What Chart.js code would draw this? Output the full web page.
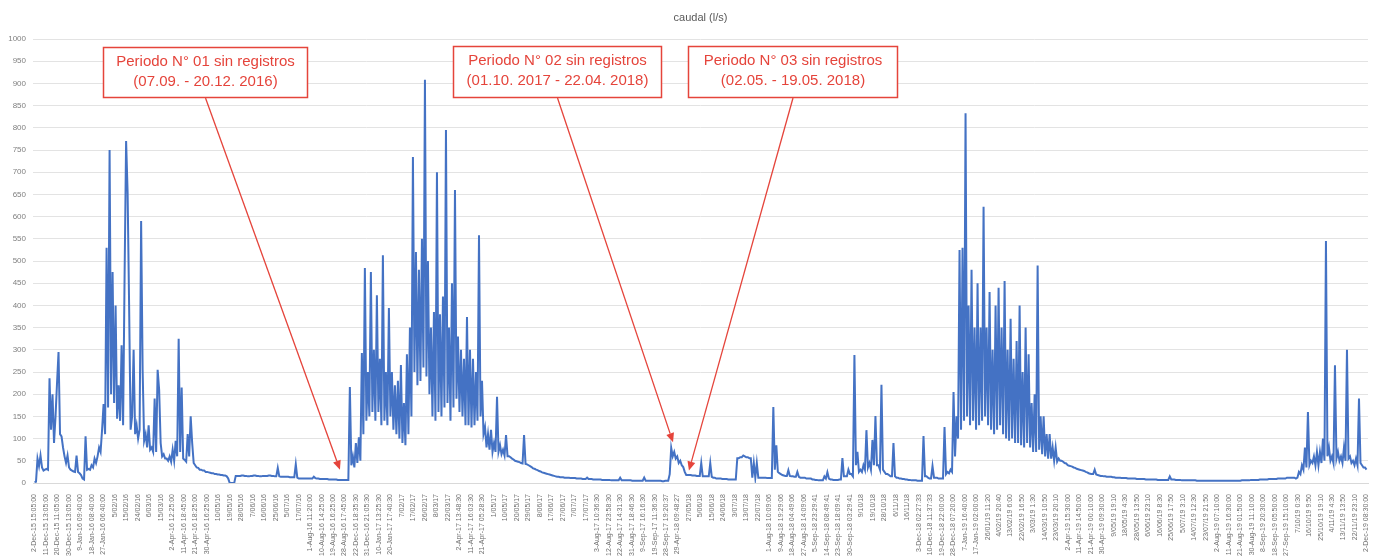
<!DOCTYPE html>
<html>
<head>
<meta charset="utf-8">
<script src="https://cdn.jsdelivr.net/npm/chart.js@4/dist/chart.umd.min.js"></script>
<style>
  html, body { margin: 0; padding: 0; background: #ffffff; }
  #wrap { width: 1381px; height: 557px; position: relative; }
</style>
</head>
<body>
<div id="wrap"><canvas id="c" width="1381" height="557"></canvas></div>
<script>
// Caudal (l/s), readings in record order
const caudal = [
  2,3,55,38,62,35,28,30,32,30,236,120,200,90,150,225,295,110,105,80,
  60,45,62,35,30,28,26,25,62,25,22,18,10,8,105,30,32,30,40,35,
  55,45,60,80,70,120,178,110,530,170,750,200,475,180,400,145,220,140,310,130,
  470,770,655,400,120,150,300,110,130,100,120,590,255,95,110,80,130,75,80,70,
  190,70,255,210,90,60,65,55,55,50,60,48,75,50,95,60,325,70,215,55,
  52,48,110,60,150,90,45,40,35,34,30,30,28,28,25,25,24,23,22,22,
  20,20,19,19,18,18,17,17,15,10,0,0,0,0,16,16,16,16,17,17,
  16,16,15,15,16,16,17,17,16,16,15,15,16,16,16,16,17,17,16,16,
  15,15,34,15,14,14,14,14,14,14,13,13,13,13,42,12,10,10,10,10,
  10,10,10,10,10,10,14,11,10,10,9,9,9,9,9,9,8,8,8,8,
  8,8,7,7,7,7,7,7,7,7,216,40,60,35,90,45,103,50,293,110,
  484,140,250,150,475,160,300,140,423,160,280,130,513,140,250,130,394,150,250,120,
  220,110,230,100,266,90,180,85,290,110,350,150,734,250,520,220,480,230,550,260,
  908,240,500,200,350,150,385,140,700,160,380,150,420,170,795,180,350,140,450,170,
  660,190,330,160,300,150,280,130,374,130,300,125,280,130,250,140,558,150,230,110,
  126,80,110,75,120,70,90,70,194,70,85,65,75,62,108,60,60,58,55,53,
  50,49,48,47,45,44,108,43,42,40,38,36,33,32,30,29,27,26,24,23,
  22,21,20,19,18,17,16,15,14,14,13,13,13,12,12,12,12,11,11,11,
  11,10,10,10,10,9,9,9,12,9,9,9,8,8,8,8,8,8,7,7,
  7,7,7,7,6,6,6,6,6,6,12,6,6,6,6,6,6,6,5,5,
  5,5,5,5,5,5,12,5,5,5,5,5,5,5,5,5,5,5,4,4,
  5,5,5,20,79,60,70,55,60,45,50,40,36,25,18,18,18,18,17,17,
  17,16,16,16,45,15,15,15,15,15,45,14,12,12,10,10,10,10,9,9,
  9,9,8,8,8,8,8,8,56,56,58,58,62,60,58,58,56,56,12,45,
  12,45,12,12,12,12,12,12,11,11,11,11,171,30,85,25,22,20,18,17,
  16,16,29,16,15,15,14,14,25,14,12,12,12,12,10,10,10,10,8,8,
  7,7,6,6,6,6,15,10,24,10,8,8,7,7,7,7,8,8,56,15,
  15,15,30,20,20,15,288,40,70,25,30,25,40,30,119,35,45,30,97,40,
  151,40,40,30,221,30,25,20,20,18,15,15,90,15,12,12,10,10,9,9,
  8,8,7,7,6,6,6,6,5,5,5,5,106,15,15,12,10,10,38,12,
  12,12,10,10,10,10,126,20,25,22,30,25,205,60,150,100,525,120,530,140,
  833,150,400,130,480,140,350,120,450,130,350,140,622,150,350,130,430,120,300,110,
  400,120,440,130,350,110,455,100,300,95,370,100,280,90,320,90,400,85,250,80,
  350,90,290,80,180,70,200,70,490,75,150,65,150,60,110,55,110,55,80,50,
  80,48,55,50,50,48,45,44,40,39,38,37,35,34,32,31,30,29,28,27,
  25,24,22,21,20,20,30,19,18,17,16,16,15,15,14,14,14,14,13,13,
  12,12,12,12,11,11,11,11,10,10,10,10,10,10,9,9,9,9,9,9,
  8,8,8,8,8,8,8,8,7,7,7,7,7,7,7,7,15,8,8,8,
  7,7,7,7,6,6,6,6,6,6,6,6,6,6,5,5,5,5,5,5,
  5,5,5,5,5,5,5,5,5,5,5,5,5,5,5,5,5,5,5,5,
  5,5,5,5,6,6,6,6,6,6,7,7,7,7,7,7,8,8,8,8,
  8,8,9,9,9,9,9,9,10,10,10,10,10,10,12,12,12,12,12,12,
  10,12,25,20,40,30,80,35,160,40,50,45,60,40,70,40,70,45,100,50,
  545,60,80,50,60,45,265,55,70,50,60,45,80,50,300,55,60,45,50,40,
  55,40,190,45,40,35,35,30
];

// Date labels along the horizontal axis
const tickLabels = [
  '2-Dec-15 15:05:00','11-Dec-15 13:05:00','20-Dec-15 11:05:00','30-Dec-15 13:05:00',
  '9-Jan-16 09:40:00','18-Jan-16 08:40:00','27-Jan-16 06:40:00',
  '5/02/16','15/02/16','24/02/16','6/03/16','15/03/16',
  '2-Apr-16 12:25:00','11-Apr-16 18:45:00','21-Apr-16 18:25:00','30-Apr-16 16:25:00',
  '10/05/16','19/05/16','28/05/16','7/06/16','16/06/16','25/06/16','5/07/16','17/07/16',
  '1-Aug-16 11:20:00','10-Aug-16 14:25:00','19-Aug-16 16:25:00','28-Aug-16 17:45:00',
  '22-Dec-16 18:35:30','31-Dec-16 21:05:30','10-Jan-17 13:25:30','20-Jan-17 17:40:30',
  '7/02/17','17/02/17','26/02/17','8/03/17','22/03/17',
  '2-Apr-17 13:48:30','11-Apr-17 16:03:30','21-Apr-17 05:28:30',
  '1/05/17','10/05/17','20/05/17','29/05/17','8/06/17','17/06/17','27/06/17','7/07/17','17/07/17',
  '3-Aug-17 10:36:30','12-Aug-17 23:58:30','22-Aug-17 14:31:30','31-Aug-17 18:46:30',
  '9-Sep-17 16:16:30','19-Sep-17 11:36:30','28-Sep-17 19:20:37','29-Apr-18 09:48:27',
  '27/05/18','5/06/18','15/06/18','24/06/18','3/07/18','13/07/18','22/07/18',
  '1-Aug-18 10:09:06','9-Aug-18 19:29:06','18-Aug-18 04:49:06','27-Aug-18 14:09:06',
  '5-Sep-18 23:29:41','14-Sep-18 08:49:41','23-Sep-18 18:09:41','30-Sep-18 03:29:41',
  '9/10/18','19/10/18','28/10/18','6/11/18','16/11/18',
  '3-Dec-18 02:27:33','10-Dec-18 11:37:33','19-Dec-18 22:00:00','28-Dec-18 07:20:00',
  '7-Jan-19 16:40:00','17-Jan-19 02:00:00',
  '26/01/19 11:20','4/02/19 20:40','13/02/19 6:00','22/02/19 16:50','3/03/19 1:30',
  '14/03/19 10:50','23/03/19 20:10',
  '2-Apr-19 15:30:00','11-Apr-19 14:50:00','21-Apr-19 00:10:00','30-Apr-19 09:30:00',
  '9/05/19 19:10','18/05/19 4:30','28/05/19 13:50','6/06/19 23:10','16/06/19 8:30',
  '25/06/19 17:50','5/07/19 3:10','14/07/19 12:30','23/07/19 21:50',
  '2-Aug-19 07:10:00','11-Aug-19 16:30:00','21-Aug-19 01:50:00','30-Aug-19 11:10:00',
  '8-Sep-19 20:30:00','18-Sep-19 05:50:00','27-Sep-19 15:10:00',
  '7/10/19 0:30','16/10/19 9:50','25/10/19 19:10','4/11/19 4:30','13/11/19 13:50',
  '22/11/19 23:10','2-Dec-19 08:30:00'
];

// Gaps in the record: callout text, box (left, top, right, bottom) and the reading the arrow points at
const gapTitles = ['Periodo N° 01 sin registros', 'Periodo N° 02 sin registros', 'Periodo N° 03 sin registros'];
const gapRanges = ['(07.09. - 20.12. 2016)', '(01.10. 2017 - 22.04. 2018)', '(02.05. - 19.05. 2018)'];
const gapBoxes = [[103, 47, 308, 98], [453, 46, 662, 98], [688, 46, 898, 98]];
const gapTargets = [[203.4, 30], [425.2, 92], [435.8, 28]];

const RED = '#E5443B';
const FONT = "'Liberation Sans', Arial, sans-serif";

const titlePlugin = {
  id: 'chartTitle',
  afterDraw(chart) {
    const { ctx, chartArea } = chart;
    ctx.save();
    ctx.fillStyle = '#595959';
    ctx.font = '11px ' + FONT;
    ctx.textAlign = 'center';
    ctx.textBaseline = 'middle';
    ctx.fillText('caudal (l/s)', (chartArea.left + chartArea.right) / 2, 18);
    ctx.restore();
  }
};

const calloutPlugin = {
  id: 'gapCallouts',
  afterDraw(chart) {
    const { ctx } = chart;
    const xs = chart.scales.x, ys = chart.scales.y;
    ctx.save();
    gapBoxes.forEach((b, k) => {
      const [l, t, r, btm] = b;
      const cx = (l + r) / 2;
      // arrow from the box down to the gap
      const tx = xs.getPixelForValue(gapTargets[k][0]);
      const ty = ys.getPixelForValue(gapTargets[k][1]);
      const ang = Math.atan2(ty - btm, tx - cx);
      const head = 9, half = 4;
      const bx = tx - head * Math.cos(ang), by = ty - head * Math.sin(ang);
      ctx.strokeStyle = RED;
      ctx.lineWidth = 1.3;
      ctx.beginPath();
      ctx.moveTo(cx, btm);
      ctx.lineTo(bx, by);
      ctx.stroke();
      ctx.fillStyle = RED;
      ctx.beginPath();
      ctx.moveTo(tx, ty);
      ctx.lineTo(bx + half * Math.sin(ang), by - half * Math.cos(ang));
      ctx.lineTo(bx - half * Math.sin(ang), by + half * Math.cos(ang));
      ctx.closePath();
      ctx.fill();
      // box
      ctx.fillStyle = '#ffffff';
      ctx.fillRect(l, t, r - l, btm - t);
      ctx.lineWidth = 1.5;
      ctx.strokeRect(l + 0.5, t + 0.5, r - l - 1, btm - t - 1);
      ctx.fillStyle = RED;
      ctx.font = '15px ' + FONT;
      ctx.textAlign = 'center';
      ctx.textBaseline = 'middle';
      ctx.fillText(gapTitles[k], cx, t + 15);
      ctx.fillText(gapRanges[k], cx, t + 35);
    });
    ctx.restore();
  }
};

const points = caudal.map((v, i) => ({ x: i, y: v }));

new Chart(document.getElementById('c').getContext('2d'), {
  type: 'line',
  data: {
    datasets: [{
      label: 'caudal (l/s)',
      data: points,
      borderColor: '#4472C4',
      borderWidth: 2,
      pointRadius: 0,
      tension: 0,
      fill: false
    }]
  },
  options: {
    responsive: false,
    animation: false,
    devicePixelRatio: 1,
    layout: { padding: { top: 39, right: 13, left: 0, bottom: 0 } },
    plugins: {
      legend: { display: false },
      tooltip: { enabled: false },
      title: { display: false }
    },
    scales: {
      x: {
        type: 'linear',
        min: -1,
        max: caudal.length,
        afterBuildTicks(scale) {
          const step = (caudal.length - 1) / (tickLabels.length - 1);
          scale.ticks = tickLabels.map((_, k) => ({ value: k * step }));
        },
        afterFit(scale) { scale.height = 74; },
        ticks: {
          autoSkip: false,
          minRotation: 90,
          maxRotation: 90,
          padding: 3,
          color: '#707070',
          font: { size: 7, family: FONT },
          callback: (v, i) => tickLabels[i]
        },
        grid: { display: false },
        border: { display: true, color: '#d9d9d9' }
      },
      y: {
        min: 0,
        max: 1000,
        afterFit(scale) { scale.width = 33; },
        ticks: {
          stepSize: 50,
          padding: 7,
          color: '#808080',
          font: { size: 8, family: FONT },
          callback: (v) => String(v)
        },
        grid: { color: '#e3e3e3', drawTicks: false },
        border: { display: false }
      }
    }
  },
  plugins: [titlePlugin, calloutPlugin]
});
</script>
</body>
</html>
